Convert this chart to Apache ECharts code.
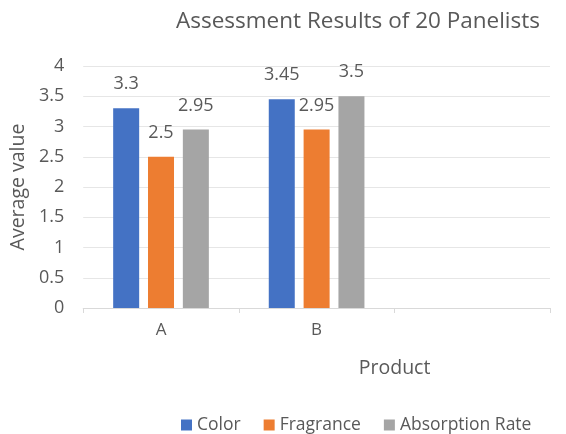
<!DOCTYPE html>
<html>
<head>
<meta charset="utf-8">
<script src="https://cdn.jsdelivr.net/npm/echarts@6/dist/echarts.min.js"></script>
<style>
  html, body { margin: 0; padding: 0; background: #fff; }
  #main { width: 566px; height: 434px; }
</style>
</head>
<body>
<div id="main"></div>
<script>
var products = ['A', 'B', ''];
var colorScores = [3.3, 3.45, '-'];
var fragranceScores = [2.5, 2.95, '-'];
var absorptionScores = [2.95, 3.5, '-'];
var yTicks = { min: 0, max: 4, interval: 0.5 };

var font = '"Open Sans", Lato, sans-serif';
var textColor = '#595959';

function barSeries(name, data, color) {
	return {
		name: name,
		type: 'bar',
		data: data,
		barWidth: 26,
		barGap: '34%',
		itemStyle: { color: color },
		label: {
			show: true,
			position: 'top',
			distance: 15,
			color: textColor,
			fontFamily: font,
			fontSize: 18
		}
	};
}

var myChart = echarts.init(document.getElementById('main'));
var option = {
	animation: false,
	title: {
		text: 'Assessment Results of 20 Panelists',
		left: 353,
		textAlign: 'center',
		top: 5,
		textStyle: { color: textColor, fontFamily: font, fontSize: 22.5, fontWeight: 'normal' }
	},
	legend: {
		bottom: -5,
		left: 176,
		itemWidth: 11,
		itemHeight: 11,
		itemGap: 23,
		itemTextGap: 5,
		icon: 'rect',
		textStyle: { color: textColor, fontFamily: font, fontSize: 17.5 },
		data: ['Color', 'Fragrance', 'Absorption Rate']
	},
	grid: { left: 82, right: 16, top: 66, bottom: 126 },
	xAxis: {
		type: 'category',
		data: products,
		name: 'Product',
		nameLocation: 'middle',
		nameGap: 50,
		nameTextStyle: { color: textColor, fontFamily: font, fontSize: 19.5, padding: [0, 0, 0, 156] },
		axisLine: { lineStyle: { color: '#d9d9d9' } },
		axisTick: { show: true, lineStyle: { color: '#d9d9d9' } },
		axisLabel: { color: textColor, fontFamily: font, fontSize: 17, margin: 14 }
	},
	yAxis: {
		type: 'value',
		min: yTicks.min,
		max: yTicks.max,
		interval: yTicks.interval,
		name: 'Average value',
		nameLocation: 'middle',
		nameGap: 54,
		nameTextStyle: { color: textColor, fontFamily: font, fontSize: 19.5 },
		axisLine: { show: false },
		axisTick: { show: false },
		axisLabel: { color: textColor, fontFamily: font, fontSize: 18, margin: 19 },
		splitLine: { lineStyle: { color: '#e6e6e6' } }
	},
	series: [
		barSeries('Color', colorScores, '#4472c4'),
		barSeries('Fragrance', fragranceScores, '#ed7d31'),
		barSeries('Absorption Rate', absorptionScores, '#a5a5a5')
	]
};
myChart.setOption(option, true);
</script>
</body>
</html>
